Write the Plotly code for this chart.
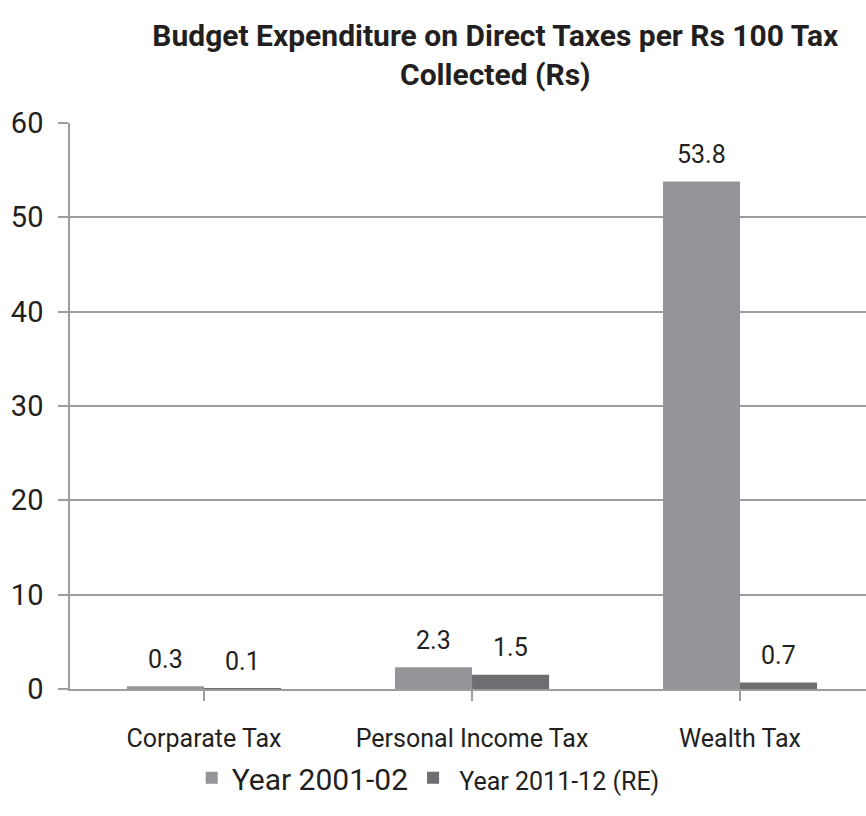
import plotly.graph_objects as go

# Chart data
categories = ["Corparate Tax", "Personal Income Tax", "Wealth Tax"]
series_names = ["Year 2001-02", "Year 2011-12 (RE)"]
values_2001 = [0.3, 2.3, 53.8]
values_2011 = [0.1, 1.5, 0.7]
y_ticks = [0, 10, 20, 30, 40, 50, 60]

# Style
FONT = "Roboto"
TEXT = "#231f20"
GRID = "#9d9d9f"
COLORS = ["#939598", "#6d6e71"]
BAR_OFFSET = 0.1437          # half the grouped bar pitch, in category units
LABEL_LIFT = 27              # px from bar top to value-label centre

fig = go.Figure()
for name, vals, color in zip(series_names, [values_2001, values_2011], COLORS):
    fig.add_trace(go.Bar(
        x=list(range(len(categories))), y=vals, name=name,
        marker=dict(color=color, line=dict(width=0)),
        hoverinfo="skip",
    ))

# Value labels above each bar
annotations = []
for s, vals in enumerate([values_2001, values_2011]):
    dx = -BAR_OFFSET if s == 0 else BAR_OFFSET
    for i, v in enumerate(vals):
        annotations.append(dict(
            x=i + dx, y=v, xref="x", yref="y", text=f"{v:.1f}",
            showarrow=False, yanchor="middle", yshift=LABEL_LIFT,
            font=dict(family=FONT, size=25, color=TEXT),
        ))

fig.update_layout(
    width=866, height=816,
    margin=dict(l=70, r=0, t=123, b=127),
    paper_bgcolor="white", plot_bgcolor="white",
    barmode="group", bargap=0.425, bargroupgap=0,
    font=dict(family=FONT, color=TEXT),
    title=dict(
        text="<b>Budget Expenditure on Direct Taxes per Rs 100 Tax<br>Collected (Rs)</b>",
        x=0.572, xref="container", xanchor="center",
        y=1 - 46 / 816, yref="container", yanchor="middle",
        font=dict(family=FONT, size=30, color=TEXT),
    ),
    xaxis=dict(
        tickmode="array", tickvals=list(range(len(categories))), ticktext=categories,
        range=[-0.5, 2.47], showgrid=False, zeroline=False,
        showline=True, linecolor=GRID, linewidth=1.5,
        ticks="outside", ticklen=10, tickcolor=GRID, tickwidth=1.5,
        tickson="boundaries", ticklabelstandoff=16,
        tickfont=dict(family=FONT, size=25, color=TEXT),
        fixedrange=True,
    ),
    yaxis=dict(
        range=[0, 60], tickmode="array", tickvals=y_ticks,
        showgrid=True, gridcolor=GRID, gridwidth=1.5,
        zeroline=False, showline=True, linecolor=GRID, linewidth=1.5,
        ticks="outside", ticklen=10, tickcolor=GRID, tickwidth=1.5,
        ticklabelstandoff=9,
        tickfont=dict(family=FONT, size=29, color=TEXT),
        fixedrange=True,
    ),
    legend=dict(
        orientation="h", x=0.45, xanchor="center", y=-0.157, yanchor="middle",
        font=dict(family=FONT, size=30, color=TEXT), itemclick=False,
        itemdoubleclick=False,
    ),
    annotations=annotations,
    showlegend=True,
)
fig.data[1].name = '<span style="font-size:25px"> ' + series_names[1] + '</span>'

fig.write_html("out.html")
